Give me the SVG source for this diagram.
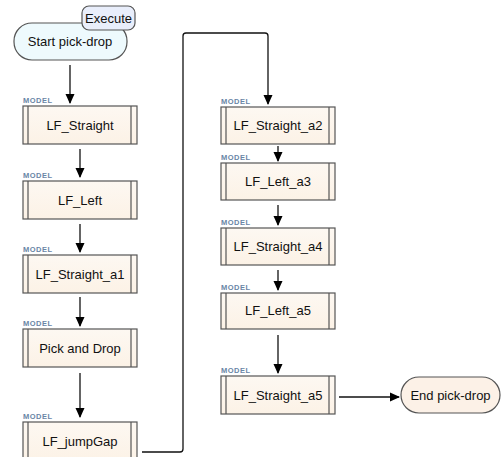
<svg xmlns="http://www.w3.org/2000/svg" width="503" height="457" viewBox="0 0 503 457">
<defs>
<marker id="ah" markerWidth="10" markerHeight="12" refX="9" refY="5" orient="auto" markerUnits="userSpaceOnUse">
<path d="M0,0.5 L10,5 L0,9.5 z" fill="#000"/>
</marker>
<linearGradient id="boxg" x1="0" y1="0" x2="0" y2="1">
<stop offset="0" stop-color="#fdf8f2"/>
<stop offset="1" stop-color="#fcf2e6"/>
</linearGradient>
<style>
.box{fill:url(#boxg);stroke:#555;stroke-width:1.2}
.bar{stroke:#555;stroke-width:1.2}
.t{font-family:"Liberation Sans",Arial,sans-serif;font-size:13px;fill:#111;text-anchor:middle}
.m{font-family:"Liberation Sans",Arial,sans-serif;font-size:7.5px;font-weight:bold;fill:#6a86a6;letter-spacing:0.5px}
.c{fill:none;stroke:#111;stroke-width:1.3}
</style>
</defs>
<rect width="503" height="457" fill="#fff"/>

<g id="start">
<rect x="14" y="23" width="113" height="37" rx="18" ry="18" fill="#eefafd" stroke="#555" stroke-width="1.2"/>
<text class="t" x="70" y="46">Start pick-drop</text>
</g>
<g id="execute">
<rect x="82" y="6" width="53" height="24" rx="7" ry="7" fill="#e9eefb" stroke="#555" stroke-width="1.2"/>
<text class="t" x="108.5" y="23">Execute</text>
</g>

<g id="lf_straight">
<text class="m" x="23" y="103">MODEL</text>
<rect class="box" x="23" y="106" width="114" height="38"/>
<line class="bar" x1="28" y1="106" x2="28" y2="144"/><line class="bar" x1="131" y1="106" x2="131" y2="144"/>
<text class="t" x="80" y="130">LF_Straight</text>
</g>
<g id="lf_left">
<text class="m" x="23" y="178">MODEL</text>
<rect class="box" x="23" y="181" width="114" height="38"/>
<line class="bar" x1="28" y1="181" x2="28" y2="219"/><line class="bar" x1="131" y1="181" x2="131" y2="219"/>
<text class="t" x="80" y="205">LF_Left</text>
</g>
<g id="lf_straight_a1">
<text class="m" x="23" y="252">MODEL</text>
<rect class="box" x="23" y="255" width="114" height="38"/>
<line class="bar" x1="28" y1="255" x2="28" y2="293"/><line class="bar" x1="131" y1="255" x2="131" y2="293"/>
<text class="t" x="80" y="279">LF_Straight_a1</text>
</g>
<g id="pick_and_drop">
<text class="m" x="23" y="326">MODEL</text>
<rect class="box" x="23" y="329" width="114" height="38"/>
<line class="bar" x1="28" y1="329" x2="28" y2="367"/><line class="bar" x1="131" y1="329" x2="131" y2="367"/>
<text class="t" x="80" y="353">Pick and Drop</text>
</g>
<g id="lf_jumpgap">
<text class="m" x="23" y="419">MODEL</text>
<rect class="box" x="23" y="422" width="114" height="40"/>
<line class="bar" x1="28" y1="422" x2="28" y2="462"/><line class="bar" x1="131" y1="422" x2="131" y2="462"/>
<text class="t" x="80" y="446">LF_jumpGap</text>
</g>

<g id="lf_straight_a2">
<text class="m" x="221" y="104">MODEL</text>
<rect class="box" x="221" y="107" width="114" height="37"/>
<line class="bar" x1="226" y1="107" x2="226" y2="144"/><line class="bar" x1="329" y1="107" x2="329" y2="144"/>
<text class="t" x="278" y="130">LF_Straight_a2</text>
</g>
<g id="lf_left_a3">
<text class="m" x="221" y="160">MODEL</text>
<rect class="box" x="221" y="163" width="114" height="37"/>
<line class="bar" x1="226" y1="163" x2="226" y2="200"/><line class="bar" x1="329" y1="163" x2="329" y2="200"/>
<text class="t" x="278" y="186">LF_Left_a3</text>
</g>
<g id="lf_straight_a4">
<text class="m" x="221" y="225">MODEL</text>
<rect class="box" x="221" y="228" width="114" height="37"/>
<line class="bar" x1="226" y1="228" x2="226" y2="265"/><line class="bar" x1="329" y1="228" x2="329" y2="265"/>
<text class="t" x="278" y="251">LF_Straight_a4</text>
</g>
<g id="lf_left_a5">
<text class="m" x="221" y="290">MODEL</text>
<rect class="box" x="221" y="293" width="114" height="36"/>
<line class="bar" x1="226" y1="293" x2="226" y2="329"/><line class="bar" x1="329" y1="293" x2="329" y2="329"/>
<text class="t" x="278" y="315">LF_Left_a5</text>
</g>
<g id="lf_straight_a5">
<text class="m" x="221" y="373">MODEL</text>
<rect class="box" x="221" y="376" width="114" height="38"/>
<line class="bar" x1="226" y1="376" x2="226" y2="414"/><line class="bar" x1="329" y1="376" x2="329" y2="414"/>
<text class="t" x="278" y="400">LF_Straight_a5</text>
</g>
<g id="end">
<rect x="401" y="377" width="99" height="36" rx="18" ry="18" fill="#fcf1e7" stroke="#555" stroke-width="1.2"/>
<text class="t" x="450.5" y="400">End pick-drop</text>
</g>

<g id="connectors">
<line class="c" x1="70" y1="65" x2="70" y2="103" marker-end="url(#ah)"/>
<line class="c" x1="80" y1="149" x2="80" y2="177" marker-end="url(#ah)"/>
<line class="c" x1="80" y1="224" x2="80" y2="252" marker-end="url(#ah)"/>
<line class="c" x1="80" y1="297" x2="80" y2="326" marker-end="url(#ah)"/>
<line class="c" x1="80" y1="373" x2="80" y2="417" marker-end="url(#ah)"/>
<path class="c" d="M142,452 H180 Q183,452 183,449 V36 Q183,33 186,33 H265 Q268,33 268,36 V104" marker-end="url(#ah)"/>
<line class="c" x1="278" y1="146" x2="278" y2="161" marker-end="url(#ah)"/>
<line class="c" x1="278" y1="205" x2="278" y2="225" marker-end="url(#ah)"/>
<line class="c" x1="278" y1="270" x2="278" y2="290" marker-end="url(#ah)"/>
<line class="c" x1="278" y1="335" x2="278" y2="373" marker-end="url(#ah)"/>
<line class="c" x1="339" y1="397" x2="399" y2="397" marker-end="url(#ah)"/>
</g>
</svg>
